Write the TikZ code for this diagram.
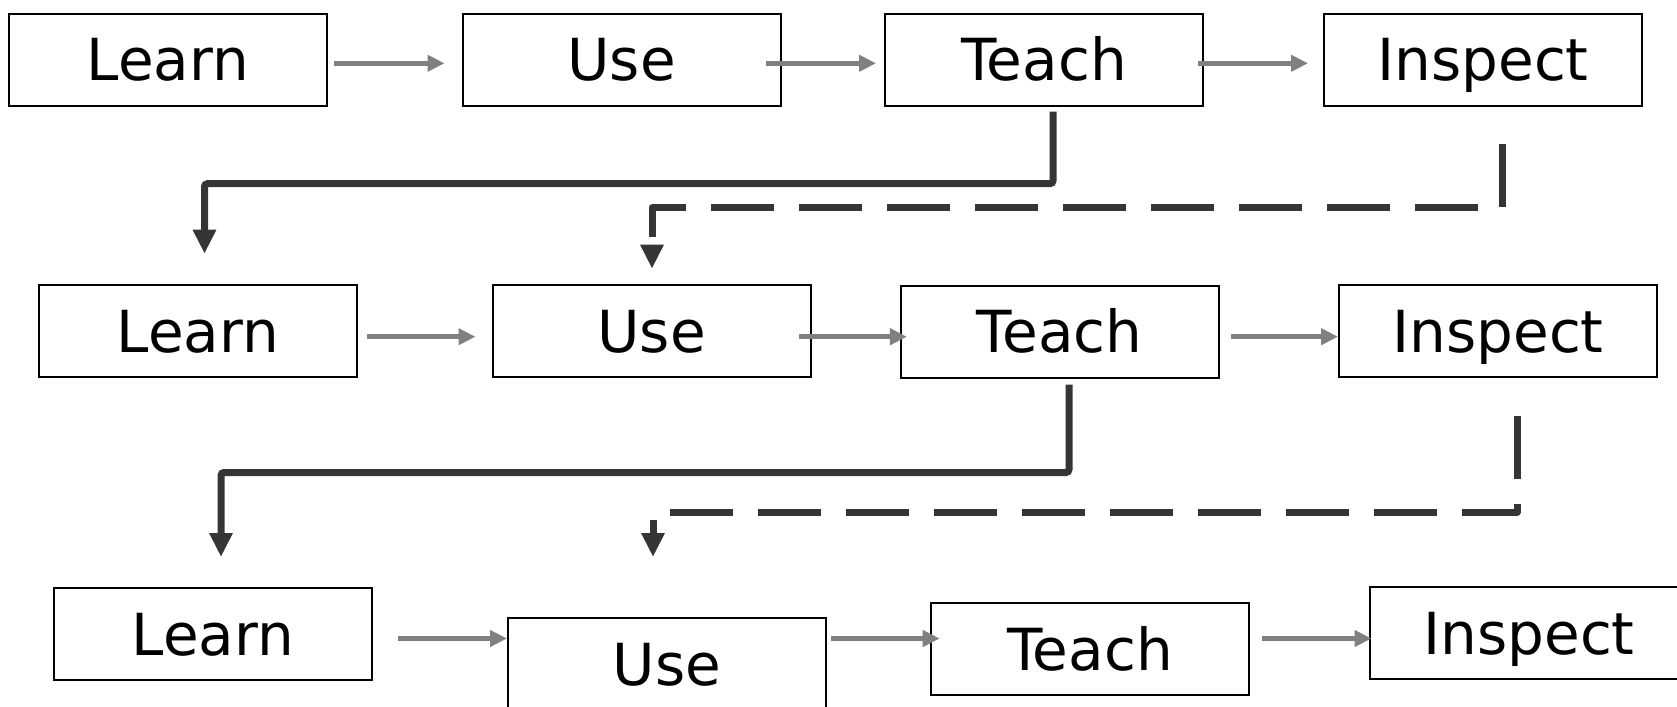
\documentclass[tikz,border=0pt]{standalone}
\usepackage{fontspec}
\setmainfont{DejaVu Sans}
\usetikzlibrary{arrows.meta,calc}
\definecolor{arrowgray}{HTML}{808080}
\definecolor{darkline}{HTML}{353535}
\begin{document}
\begin{tikzpicture}[x=0.5pt,y=-0.5pt,
  stagebox/.style={draw=black, line width=1pt, minimum width=159pt, minimum height=46pt,
    inner sep=0pt, text height=21.1pt, text depth=0pt, font=\fontsize{29}{34}\selectfont},
  flow/.style={draw=arrowgray, line width=2.5pt, -{Triangle[length=8.5pt,width=8pt]}},
  loopline/.style={draw=darkline, line width=3.5pt, -{Triangle[length=12pt,width=11pt]}},
  loopback/.style={loopline, rounded corners=1.5pt},
  loopdash/.style={loopline, line join=round, dash pattern=on 31.5pt off 12.5pt}]
\useasboundingbox (0,0) rectangle (1677,707);
% row 1
\node[stagebox] (L1) at (168,59.7) {Learn};
\node[stagebox] (U1) at (621.5,59.7) {Use};
\node[stagebox] (T1) at (1044,59.7) {Teach};
\node[stagebox] (I1) at (1483,59.7) {Inspect};
% row 2
\node[stagebox] (L2) at (198,331.2) {Learn};
\node[stagebox] (U2) at (651.5,331.2) {Use};
\node[stagebox] (T2) at (1059.5,331.5) {Teach};
\node[stagebox] (I2) at (1498,331.2) {Inspect};
% row 3
\node[stagebox] (L3) at (213,634) {Learn};
\node[stagebox] (U3) at (667,664) {Use};
\node[stagebox] (T3) at (1090,649) {Teach};
\node[stagebox] (I3) at (1529,633) {Inspect};
% row 1 flow
\draw[flow] ($(L1.east)+(6,3.6)$) -- ($(U1.west)+(-17,3.6)$);
\draw[flow] ($(U1.east)+(-16,3.6)$) -- ($(T1.west)+(-8,3.6)$);
\draw[flow] ($(T1.east)+(-6,3.6)$) -- ($(I1.west)+(-15,3.6)$);
% row 2 flow
\draw[flow] ($(L2.east)+(8.7,5.5)$) -- ($(U2.west)+(-16,5.5)$);
\draw[flow] ($(U2.east)+(-12.6,5.5)$) -- ($(T2.west)+(7.4,5.2)$);
\draw[flow] ($(T2.east)+(11,5.2)$) -- ($(I2.west)+(0,5.5)$);
% row 3 flow
\draw[flow] ($(L3.east)+(25,4.5)$) -- ($(U3.west)+(0,-25.5)$);
\draw[flow] ($(U3.east)+(4,-25.5)$) -- ($(T3.west)+(9.7,-10.5)$);
\draw[flow] ($(T3.east)+(12,-10.5)$) -- ($(I3.west)+(2.5,5.5)$);
% loop-backs
\draw[loopback] ($(T1.south)+(9,5)$) -- ++(0,72) -| ($(L2.north)+(6.5,-30.5)$);
\draw[loopdash] ($(I1.south)+(19,37)$) -- ++(0,64) -| ($(U2.north)+(0.5,-15.5)$);
\draw[loopback] ($(T2.south)+(9.5,6)$) -- ++(0,88) -| ($(L3.north)+(8,-30)$);
\draw[loopdash] ($(I2.south)+(19,38)$) -- ++(0,96) -| ($(U3.north)+(-14,-60)$);
\end{tikzpicture}
\end{document}
